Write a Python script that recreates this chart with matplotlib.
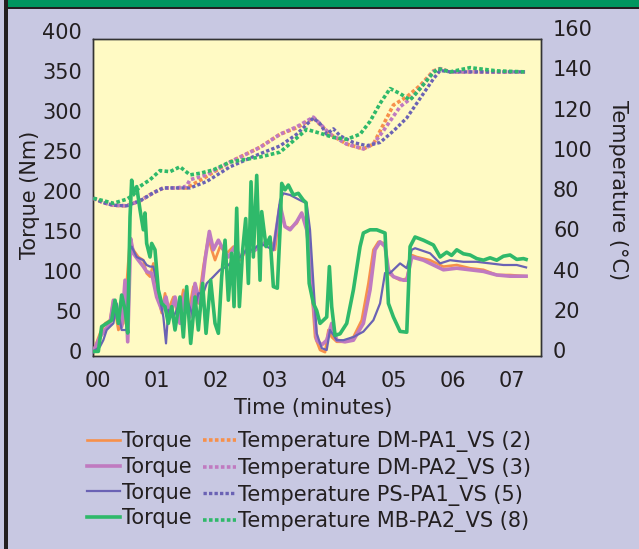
import matplotlib
matplotlib.use("Agg")
import matplotlib.pyplot as plt
from matplotlib.lines import Line2D
from matplotlib.patches import Rectangle

plt.rcParams['font.family'] = ['DejaVu Sans']

# ---------------- data (time in minutes) ----------------
# Torque (Nm)
t_orange = [-0.07, 0.042, 0.127, 0.211, 0.268, 0.352, 0.436, 0.493, 0.549, 0.605, 0.69, 0.774, 0.83, 0.887,
            0.943, 1.027, 1.084, 1.14, 1.196, 1.281, 1.365, 1.45, 1.534, 1.619, 1.703, 1.788, 1.872, 1.928,
            1.985, 2.069, 2.182, 2.294, 2.407, 2.52, 2.632, 2.801, 2.914, 2.998, 3.083, 3.167, 3.252, 3.364,
            3.449, 3.533, 3.561, 3.617, 3.674, 3.758, 3.843, 3.899, 3.955, 4.04, 4.181, 4.322, 4.462, 4.575,
            4.659, 4.744, 4.856, 4.913, 4.997, 5.11, 5.223, 5.307, 5.392, 5.617, 5.842, 6.067, 6.292, 6.518,
            6.743, 6.968, 7.238]
torque_orange = [2, 24.6, 37, 41, 66, 28.75, 37, 87, 143, 129, 120, 116, 99.6, 95.4,
                 112, 70, 50, 74.6, 54, 70, 45, 79, 50, 83, 62, 108, 145, 129,
                 116, 133, 124.6, 133, 116, 129, 129, 137, 141, 129, 183, 158, 156, 162,
                 175, 158, 150, 79, 20, 3.75, 1, 28.75, 20, 14, 14, 20, 41, 87,
                 129, 139, 137, 99.6, 95.4, 91, 93, 122.5, 120, 116, 108, 110, 106, 104,
                 97.5, 97.5, 96]

t_pink = [-0.07, 0.042, 0.127, 0.211, 0.268, 0.324, 0.408, 0.465, 0.51, 0.56, 0.605, 0.69, 0.774, 0.83,
          0.915, 0.999, 1.084, 1.157, 1.225, 1.309, 1.393, 1.478, 1.563, 1.647, 1.731, 1.816, 1.889, 1.957,
          2.041, 2.126, 2.21, 2.323, 2.407, 2.52, 2.632, 2.773, 2.886, 2.97, 3.083, 3.167, 3.252, 3.364,
          3.449, 3.533, 3.561, 3.646, 3.702, 3.786, 3.871, 3.955, 4.04, 4.181, 4.322, 4.49, 4.603, 4.687,
          4.772, 4.856, 4.913, 4.997, 5.166, 5.223, 5.307, 5.504, 5.673, 5.842, 6.067, 6.292, 6.518, 6.743,
          6.968, 7.238]
torque_pink = [2, 20, 28.75, 37, 66, 45, 33, 91, 14, 143, 124.6, 116, 108, 101.7,
               99.6, 70, 54, 70, 45, 70, 37, 74.6, 45, 87, 62, 116, 152, 129,
               141, 129, 120, 133, 120, 129, 127, 135, 141, 129, 185, 158, 154, 164,
               175, 154, 137, 62, 16, 10, 16, 37, 16, 14, 16, 37, 79, 129,
               139, 133, 104, 95.4, 91, 91, 120, 116, 110, 104, 106, 104, 102, 97.5,
               96, 96]

t_blue = [-0.07, 0.042, 0.098, 0.155, 0.268, 0.324, 0.408, 0.493, 0.549, 0.577, 0.662, 0.774, 0.83, 0.887,
          0.943, 1.027, 1.112, 1.157, 1.196, 1.281, 1.365, 1.45, 1.534, 1.619, 1.703, 1.788, 1.844, 1.957,
          2.069, 2.182, 2.294, 2.407, 2.52, 2.632, 2.745, 2.857, 2.97, 3.083, 3.139, 3.252, 3.421, 3.533,
          3.589, 3.646, 3.702, 3.786, 3.871, 3.927, 4.04, 4.153, 4.322, 4.49, 4.659, 4.772, 4.856, 4.941,
          5.11, 5.223, 5.307, 5.363, 5.617, 5.786, 5.955, 6.18, 6.405, 6.63, 6.855, 7.081, 7.238]
torque_blue = [2, 8, 16, 28.75, 37, 62, 28.75, 28.75, 129, 133, 120, 116, 110, 108,
               108, 79, 45, 12, 54, 45, 58, 45, 62, 45, 74.6, 74.6, 87, 95.4,
               104, 108, 116, 120, 129, 129, 137, 133, 129, 191, 199.6, 197.5, 191, 187,
               154, 87, 24.6, 6, 3.75, 28.75, 16, 16, 20, 26.7, 41, 62, 100, 100,
               112, 106, 129, 131, 124.6, 112, 116, 114, 114, 112, 110, 110, 107]

t_green = [-0.07, 0.014, 0.07, 0.155, 0.239, 0.296, 0.352, 0.408, 0.465, 0.51, 0.549, 0.577, 0.605, 0.662,
           0.718, 0.774, 0.802, 0.83, 0.887, 0.915, 0.971, 1.027, 1.084, 1.14, 1.196, 1.253, 1.309, 1.393,
           1.45, 1.506, 1.574, 1.647, 1.703, 1.776, 1.833, 1.911, 1.985, 2.041, 2.097, 2.154, 2.21, 2.266,
           2.306, 2.351, 2.396, 2.452, 2.503, 2.548, 2.593, 2.632, 2.689, 2.745, 2.773, 2.846, 2.914, 2.97,
           3.037, 3.083, 3.111, 3.167, 3.223, 3.308, 3.392, 3.477, 3.522, 3.575, 3.646, 3.702, 3.758, 3.815,
           3.871, 3.916, 3.955, 4.012, 4.096, 4.209, 4.322, 4.434, 4.49, 4.603, 4.716, 4.856, 4.913, 4.997,
           5.11, 5.223, 5.279, 5.363, 5.504, 5.673, 5.786, 5.898, 5.98, 6.067, 6.18, 6.292, 6.405, 6.518,
           6.63, 6.743, 6.855, 6.968, 7.08, 7.193, 7.238]
torque_green = [2, 2, 33, 37, 41, 66, 37, 72.5, 54, 25, 170, 216, 200, 208,
                179, 154, 175, 137, 120, 137, 129, 79, 62, 58, 37, 58, 28.75, 70,
                20, 83, 12, 70, 28.75, 87, 24.6, 91, 37, 24.6, 95, 141, 66, 124.6,
                58, 181, 58, 129, 168, 87, 214, 120, 222, 91, 176.7, 133, 145, 83,
                81, 154, 212, 204, 210, 197.5, 199.6, 191, 188, 87, 62, 53, 37, 41,
                45, 108, 58, 22, 24, 37, 79, 133, 150, 154, 154, 150, 62, 45,
                27, 26, 133, 145, 141, 135, 120, 126, 122, 129, 124, 122.5, 118, 116,
                119, 116, 121, 122.5, 117, 118, 117]

# Temperature (deg C)
t_temp_orange = [-0.07, 0.098, 0.268, 0.493, 0.718, 0.943, 1.112, 1.337, 1.506, 1.844, 2.238, 2.745,
                 3.083, 3.364, 3.646, 3.759, 3.928, 4.209, 4.49, 4.659, 4.828, 4.997, 5.223, 5.448,
                 5.673, 5.786, 5.955, 6.461, 7.221]
temp_orange = [76.5, 74.3, 73, 72.7, 75.2, 79.2, 81.6, 81.6, 81.6, 87.3, 94.5, 101.8,
               108.3, 111.5, 116.4, 113.1, 108.3, 103.4, 101, 103.4, 113.1, 122.8, 126.9, 132.5,
               139.8, 140.9, 139.3, 139.3, 139.3]

t_temp_pink = [-0.07, 0.098, 0.268, 0.493, 0.718, 0.943, 1.112, 1.337, 1.5, 1.563, 1.844, 2.238, 2.745,
               3.083, 3.364, 3.646, 3.759, 3.928, 4.209, 4.49, 4.659, 4.828, 5.11, 5.335, 5.5,
               5.673, 5.786, 5.955, 6.461, 7.221]
temp_pink = [76.5, 74.3, 73, 72.7, 75.2, 79.2, 81.6, 81.6, 82.4, 85.7, 88.1, 94.5, 101.8,
             108.3, 112, 116.8, 113.5, 108.3, 103.4, 101, 103.4, 110, 122, 127, 133,
             139.5, 140.9, 139.3, 139.3, 139.3]

t_temp_blue = [-0.07, 0.098, 0.268, 0.493, 0.718, 0.943, 1.112, 1.563, 1.844, 2.238, 2.745, 3.083,
               3.364, 3.646, 3.759, 3.871, 3.984, 4.097, 4.322, 4.547, 4.772, 4.997, 5.223, 5.448,
               5.673, 5.786, 5.955, 6.461, 7.221]
temp_blue = [76.5, 74.3, 73, 72.7, 75.2, 79.2, 81.6, 81.6, 84.8, 92.1, 98.6, 102.5,
             108.3, 116.4, 113.5, 108.3, 111, 107.5, 104.2, 102.6, 104.2, 109.9, 116.4, 126.1,
             135.8, 140, 139.3, 139.3, 139.3]

t_temp_green = [-0.07, 0.268, 0.493, 0.6, 0.718, 0.887, 1.054, 1.225, 1.393, 1.563, 1.731, 1.95, 2.238,
                2.745, 3.083, 3.308, 3.533, 3.759, 3.984, 4.209, 4.434, 4.603, 4.772, 4.941, 5.11,
                5.279, 5.448, 5.673, 5.757, 5.955, 6.292, 6.743, 7.221]
temp_green = [76.5, 74, 76, 78, 82.4, 85.7, 90.2, 89.7, 92.1, 88.1, 88.9, 90.5, 94.5,
              97, 99.4, 105, 110.7, 108.8, 106.7, 105.8, 108.3, 114.7, 123.6, 131, 128.5,
              125.3, 131, 139, 140.9, 139.3, 141.4, 139.8, 139.3]

x_ticks = [0, 1, 2, 3, 4, 5, 6, 7]
x_tick_labels = ['00', '01', '02', '03', '04', '05', '06', '07']
torque_ticks = [0, 50, 100, 150, 200, 250, 300, 350, 400]
temp_ticks = [0, 20, 40, 60, 80, 100, 120, 140, 160]

series_names = ['Temperature DM-PA1_VS (2)', 'Temperature DM-PA2_VS (3)',
                'Temperature PS-PA1_VS (5)', 'Temperature MB-PA2_VS (8)']

# ---------------- style ----------------
C_ORANGE = '#f7904a'
C_PINK = '#c07ac0'
C_BLUE = '#6a62b4'
C_GREEN = '#2fb96a'
BG = '#c8c8e2'
PLOT_BG = '#fffac4'
TXT = '#231f20'
FS = 15

W, H = 639, 549
fig = plt.figure(figsize=(W / 100, H / 100), dpi=100, facecolor=BG)

# decorative frame: green top bar and dark left border
fig.patches.append(Rectangle((7 / W, 1 - 7 / H), 1, 7 / H, transform=fig.transFigure,
                             facecolor='#00965f', edgecolor='none', zorder=0))
fig.patches.append(Rectangle((7 / W, 1 - 8.5 / H), 1, 1.5 / H, transform=fig.transFigure,
                             facecolor=TXT, edgecolor='none', zorder=0))
fig.patches.append(Rectangle((4 / W, 0), 3.5 / W, 1, transform=fig.transFigure,
                             facecolor=TXT, edgecolor='none', zorder=0))

ax_l, ax_r, ax_t, ax_b = 93, 541, 39, 356
ax = fig.add_axes([ax_l / W, 1 - ax_b / H, (ax_r - ax_l) / W, (ax_b - ax_t) / H])
ax.set_facecolor(PLOT_BG)
ax2 = ax.twinx()

ax.set_xlim(-0.076, 7.49)
ax.set_ylim(-3.75, 392.5)
ax2.set_ylim(-1.94, 155.64)

# temperature (dotted)
dash = (0, (1.0, 0.65))
ax2.plot(t_temp_orange, temp_orange, color=C_ORANGE, lw=2.6, linestyle=dash, zorder=3)
ax2.plot(t_temp_pink, temp_pink, color=C_PINK, lw=2.6, linestyle=dash, zorder=3)
ax2.plot(t_temp_blue, temp_blue, color=C_BLUE, lw=2.4, linestyle=dash, zorder=3)
ax2.plot(t_temp_green, temp_green, color=C_GREEN, lw=2.6, linestyle=dash, zorder=3)

# torque (solid), drawn in the torque axis' data coordinates
ax2.plot(t_orange, torque_orange, color=C_ORANGE, lw=1.9, transform=ax.transData, zorder=4)
ax2.plot(t_pink, torque_pink, color=C_PINK, lw=2.6, transform=ax.transData, zorder=4)
ax2.plot(t_blue, torque_blue, color=C_BLUE, lw=1.6, transform=ax.transData, zorder=4)
ax2.plot(t_green, torque_green, color=C_GREEN, lw=2.6, transform=ax.transData, zorder=5)

for a in (ax, ax2):
    for s in a.spines.values():
        s.set_color('#333333')
        s.set_linewidth(1.0)
    a.tick_params(length=0)

ax.set_xticks(x_ticks)
ax.set_xticklabels(x_tick_labels, fontsize=FS, color=TXT)
ax.tick_params(axis='x', pad=10.5)
ax.set_yticks([])
ax2.set_yticks([])

# y tick labels (placed at the data values of each scale)
for v in torque_ticks:
    ax.text(-0.0246, v, str(v), transform=ax.get_yaxis_transform(),
            ha='right', va='center', fontsize=FS, color=TXT, clip_on=False)
for v in temp_ticks:
    ax2.text(1.0268, v, str(v), transform=ax2.get_yaxis_transform(),
             ha='left', va='center', fontsize=FS, color=TXT, clip_on=False)

fig.text(30 / W, 1 - 195 / H, 'Torque (Nm)', rotation=90, ha='center', va='center',
         fontsize=FS, color=TXT)
fig.text(618 / W, 1 - 190 / H, 'Temperature (°C)', rotation=270, ha='center', va='center',
         fontsize=FS, color=TXT)
fig.text(313 / W, 1 - 408 / H, 'Time (minutes)', ha='center', va='center',
         fontsize=FS, color=TXT)

# legend
handles = [
    Line2D([], [], color=C_ORANGE, lw=1.9),
    Line2D([], [], color=C_PINK, lw=2.6),
    Line2D([], [], color=C_BLUE, lw=1.6),
    Line2D([], [], color=C_GREEN, lw=2.6),
    Line2D([], [], color=C_ORANGE, lw=2.6, linestyle=dash),
    Line2D([], [], color=C_PINK, lw=2.6, linestyle=dash),
    Line2D([], [], color=C_BLUE, lw=2.4, linestyle=dash),
    Line2D([], [], color=C_GREEN, lw=2.6, linestyle=dash),
]
labels = ['Torque'] * 4 + series_names
leg = fig.legend(handles, labels, ncol=2, loc='upper left',
                 bbox_to_anchor=(87 / W, 1 - 431 / H), frameon=False,
                 fontsize=FS, handlelength=1.58, handletextpad=0.1,
                 columnspacing=0.55, labelspacing=0.28, borderpad=0, borderaxespad=0)
for txt in leg.get_texts():
    txt.set_color(TXT)

fig.savefig('out.png', dpi=100, facecolor=BG)
